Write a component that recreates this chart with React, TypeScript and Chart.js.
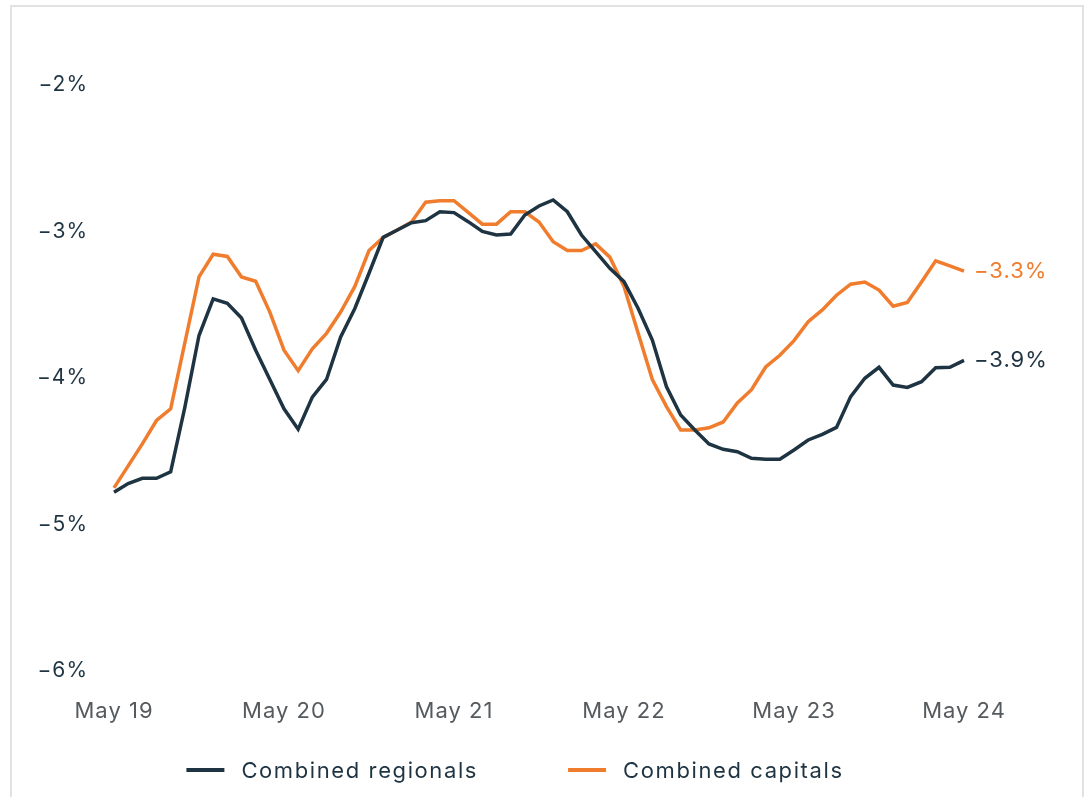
import { useEffect, useRef } from "react";
import { Chart, registerables } from "chart.js";

Chart.register(...registerables);

// Monthly observations, May 2019 to May 2024
const months = [
  "May 19", "Jun 19", "Jul 19", "Aug 19", "Sep 19", "Oct 19", "Nov 19", "Dec 19", "Jan 20", "Feb 20", "Mar 20", "Apr 20",
  "May 20", "Jun 20", "Jul 20", "Aug 20", "Sep 20", "Oct 20", "Nov 20", "Dec 20", "Jan 21", "Feb 21", "Mar 21", "Apr 21",
  "May 21", "Jun 21", "Jul 21", "Aug 21", "Sep 21", "Oct 21", "Nov 21", "Dec 21", "Jan 22", "Feb 22", "Mar 22", "Apr 22",
  "May 22", "Jun 22", "Jul 22", "Aug 22", "Sep 22", "Oct 22", "Nov 22", "Dec 22", "Jan 23", "Feb 23", "Mar 23", "Apr 23",
  "May 23", "Jun 23", "Jul 23", "Aug 23", "Sep 23", "Oct 23", "Nov 23", "Dec 23", "Jan 24", "Feb 24", "Mar 24", "Apr 24",
  "May 24",
];

// Labels shown on the x axis
const xTickLabels = ["May 19", "May 20", "May 21", "May 22", "May 23", "May 24"];

// Y axis ticks (percent)
const yTicks = [-2, -3, -4, -5, -6];

const regionals = [
  -4.78, -4.72, -4.685, -4.685, -4.64, -4.2, -3.71, -3.46, -3.49, -3.59, -3.81, -4.01,
  -4.21, -4.35, -4.13, -4.01, -3.72, -3.525, -3.285, -3.04, -2.99, -2.94, -2.926, -2.865,
  -2.871, -2.933, -3.0, -3.024, -3.017, -2.887, -2.826, -2.785, -2.865, -3.024, -3.138, -3.251,
  -3.342, -3.525, -3.741, -4.06, -4.253, -4.355, -4.45, -4.487, -4.503, -4.548, -4.555, -4.555,
  -4.491, -4.423, -4.385, -4.337, -4.127, -4.002, -3.927, -4.048, -4.064, -4.025, -3.93, -3.927,
  -3.88,
];

const capitals = [
  -4.75, -4.6, -4.45, -4.29, -4.21, -3.76, -3.31, -3.155, -3.17, -3.31, -3.34, -3.55,
  -3.81, -3.95, -3.8, -3.695, -3.55, -3.375, -3.13, -3.04, -2.99, -2.935, -2.8, -2.79,
  -2.79, -2.87, -2.95, -2.95, -2.865, -2.865, -2.935, -3.07, -3.13, -3.13, -3.085, -3.175,
  -3.375, -3.695, -4.01, -4.195, -4.355, -4.355, -4.34, -4.3, -4.17, -4.08, -3.925, -3.845,
  -3.745, -3.615, -3.535, -3.435, -3.36, -3.345, -3.4, -3.51, -3.485, -3.345, -3.2, -3.235,
  -3.27,
];

const NAVY = "#1f3442";
const ORANGE = "#f07d2d";
const AXIS_GREY = "#555a5e";
const FONT = "Inter, 'Open Sans', sans-serif";

const fmtPct = (v: number, digits: number) =>
  (v < 0 ? "\u2212" : "") + Math.abs(v).toFixed(digits) + "%";

// Slightly looser tracking for every piece of text on the canvas
const tracking = {
  id: "tracking",
  beforeDraw(chart: any) {
    chart.ctx.letterSpacing = "1px";
  },
};

// Writes the latest value just right of each line's last point
const endLabels = {
  id: "endLabels",
  afterDatasetsDraw(chart: any) {
    const ctx = chart.ctx;
    ctx.save();
    ctx.font = `22px ${FONT}`;
    ctx.letterSpacing = "1px";
    ctx.textAlign = "left";
    ctx.textBaseline = "middle";
    chart.data.datasets.forEach((ds: any, i: number) => {
      const meta = chart.getDatasetMeta(i);
      const last = meta.data[meta.data.length - 1];
      const v = ds.data[ds.data.length - 1];
      ctx.fillStyle = ds.borderColor;
      ctx.fillText(fmtPct(v, 1), last.x + 10, last.y);
    });
    ctx.restore();
  },
};

// Legend row under the axis: short line swatch followed by the series name
const lineLegend = {
  id: "lineLegend",
  afterDraw(chart: any) {
    const ctx = chart.ctx;
    const swatch = 38;
    const textGap = 17;
    const itemGap = 90;
    const y = 763;
    ctx.save();
    ctx.font = `22px ${FONT}`;
    ctx.letterSpacing = "1.6px";
    ctx.textBaseline = "middle";
    ctx.textAlign = "left";
    const items = chart.data.datasets.map((ds: any) => ({
      label: ds.label,
      color: ds.borderColor,
      w: swatch + textGap + ctx.measureText(ds.label).width,
    }));
    const total =
      items.reduce((s: number, it: any) => s + it.w, 0) + itemGap * (items.length - 1);
    const centre = (chart.chartArea.left + chart.chartArea.right) / 2 - 24;
    let x = centre - total / 2;
    items.forEach((it: any) => {
      ctx.fillStyle = it.color;
      ctx.fillRect(x, y - 2, swatch, 4);
      ctx.fillStyle = NAVY;
      ctx.fillText(it.label, x + swatch + textGap, y + 1);
      x += it.w + itemGap;
    });
    ctx.restore();
  },
};

export default function App() {
  const ref = useRef<HTMLCanvasElement | null>(null);

  useEffect(() => {
    if (!ref.current) return;
    const chart = new Chart(ref.current, {
      type: "line",
      data: {
        labels: months,
        datasets: [
          {
            label: "Combined regionals",
            data: regionals,
            borderColor: NAVY,
            backgroundColor: NAVY,
            borderWidth: 3.5,
            pointRadius: 0,
            tension: 0,
          },
          {
            label: "Combined capitals",
            data: capitals,
            borderColor: ORANGE,
            backgroundColor: ORANGE,
            borderWidth: 3.5,
            pointRadius: 0,
            tension: 0,
          },
        ],
      },
      options: {
        animation: false,
        responsive: false,
        devicePixelRatio: 1,
        layout: { padding: { top: 78, left: 0, right: 118, bottom: 66 } },
        plugins: {
          legend: { display: false },
          tooltip: { enabled: false },
        },
        scales: {
          x: {
            type: "category",
            offset: false,
            grid: { display: false, drawTicks: false },
            border: { display: false },
            afterFit: (s: any) => {
              s.height = 60;
            },
            ticks: {
              autoSkip: false,
              maxRotation: 0,
              padding: 27,
              color: AXIS_GREY,
              font: { family: FONT, size: 22 },
              callback: (_v: any, i: number) =>
                xTickLabels.includes(months[i]) ? months[i] : "",
            },
          },
          y: {
            min: yTicks[yTicks.length - 1],
            max: yTicks[0],
            grid: { display: false, drawTicks: false },
            border: { display: false },
            afterFit: (s: any) => {
              s.width = 102;
            },
            afterBuildTicks: (s: any) => {
              s.ticks = yTicks.map((v) => ({ value: v }));
            },
            ticks: {
              padding: 26,
              color: NAVY,
              font: { family: FONT, size: 21 },
              callback: (v: any) => fmtPct(Number(v), 0),
            },
          },
        },
      },
      plugins: [tracking, endLabels, lineLegend],
    });
    return () => chart.destroy();
  }, []);

  return (
    <div
      style={{
        position: "absolute",
        left: 10,
        top: 5,
        width: 1074,
        height: 792,
        boxSizing: "border-box",
        borderTop: "2px solid #e2e2e2",
        borderLeft: "2px solid #e2e2e2",
        borderRight: "2px solid #e2e2e2",
        background: "#ffffff",
      }}
    >
      <canvas ref={ref} width={1070} height={790} style={{ display: "block" }} />
    </div>
  );
}
